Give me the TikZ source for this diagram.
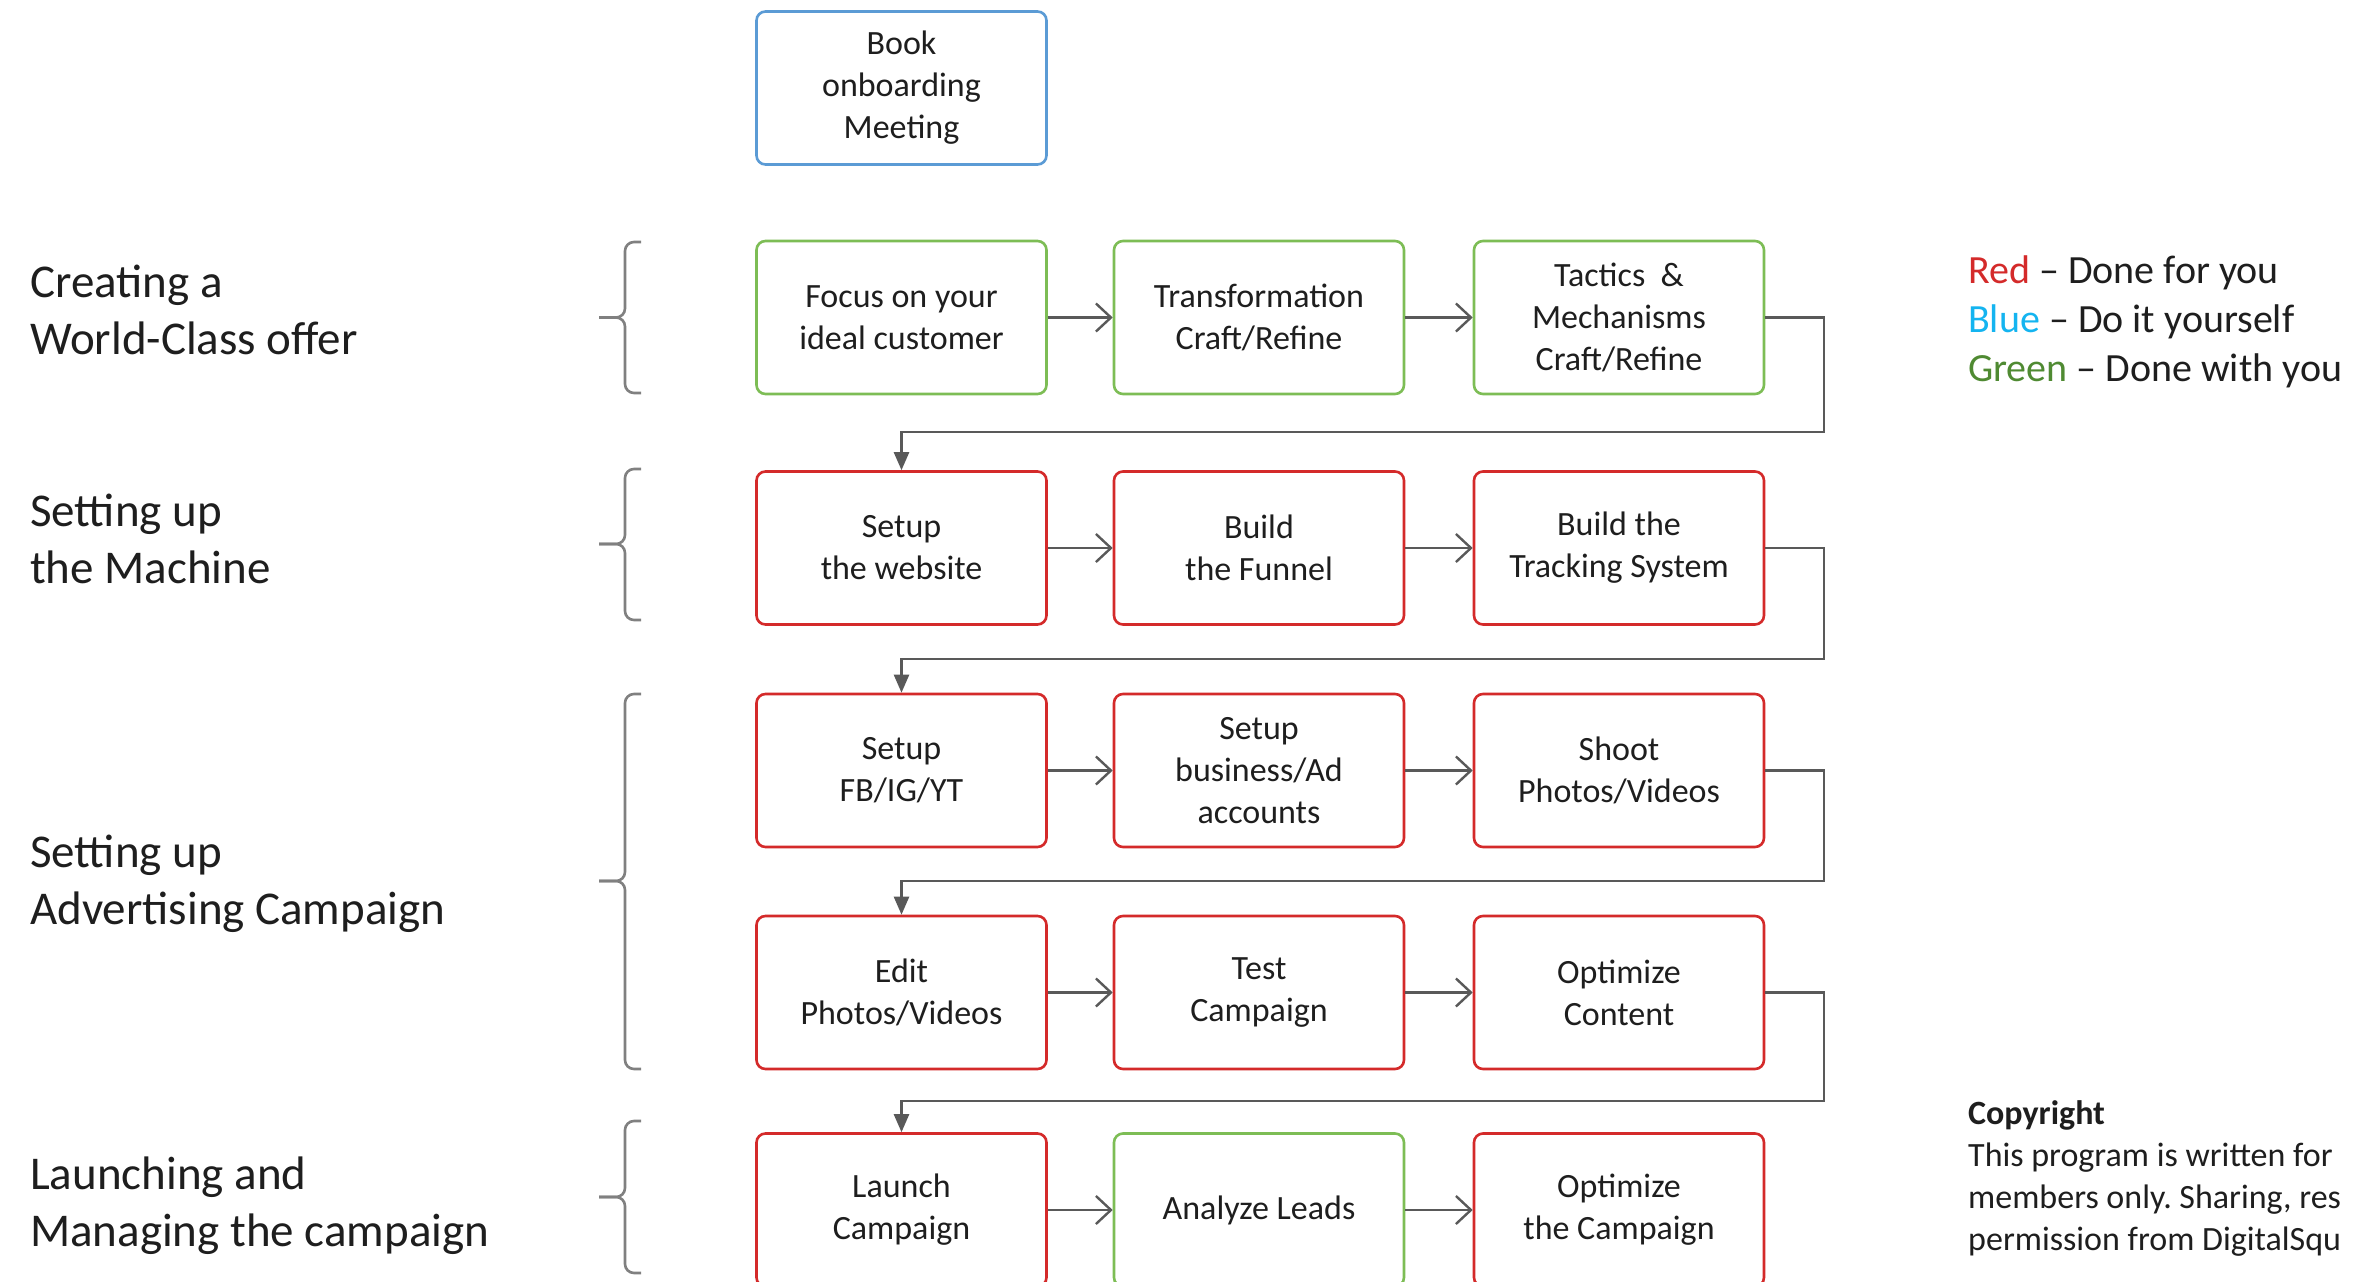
\documentclass[tikz,border=0pt]{standalone}
\usepackage{fontspec}
\setmainfont{Carlito}
\usetikzlibrary{arrows.meta}
\frenchspacing
\definecolor{boxred}{HTML}{D42A2A}
\definecolor{boxgreen}{HTML}{7DBD55}
\definecolor{boxblue}{HTML}{5B9BD5}
\definecolor{legred}{HTML}{D42A2A}
\definecolor{legblue}{HTML}{14B4F0}
\definecolor{leggreen}{HTML}{4F8A32}
\definecolor{linegray}{HTML}{595959}
\definecolor{bracegray}{HTML}{808080}
\definecolor{txt}{HTML}{1E1E1E}
\tikzset{
  stepbox/.style={draw, line width=2.6pt, rounded corners=9pt, minimum width=290pt,
    minimum height=153pt, align=center, text=txt, inner sep=0pt,
    font=\fontsize{34}{42}\selectfont},
  redbox/.style={stepbox, draw=boxred},
  greenbox/.style={stepbox, draw=boxgreen},
  bluebox/.style={stepbox, draw=boxblue},
  harrow/.style={draw=linegray, line width=2.4pt, -{Straight Barb[length=15pt,width=28pt,line width=2.4pt]}},
  darrow/.style={draw=linegray, line width=2.4pt, -{Triangle[length=18pt,width=15pt]}},
  bracestyle/.style={draw=bracegray, line width=2.6pt, rounded corners=9pt},
  sidelabel/.style={anchor=west, align=left, text=txt, inner sep=0pt,
    font=\fontsize{47}{57}\selectfont},
}
\begin{document}
\begin{tikzpicture}[x=1pt,y=-1pt]
\clip (0,0) rectangle (2354,1282);
\fill[white] (0,0) rectangle (2354,1282);

% boxes
\node[bluebox] (book) at (901.5,88) {Book\\onboarding\\Meeting};

\node[greenbox] (a1) at (901.5,317.5) {Focus on your\\ideal customer};
\node[greenbox] (a2) at (1259,317.5) {Transformation\\Craft/Refine};
\node[greenbox] (a3) at (1619,317.5) {Tactics~~\&\\Mechanisms\\Craft/Refine};

\node[redbox] (b1) at (901.5,548) {Setup\\the website};
\node[redbox] (b2) at (1259,548) {Build\\the Funnel};
\node[redbox] (b3) at (1619,548) {Build the\\Tracking System};

\node[redbox] (c1) at (901.5,770.5) {Setup\\FB/IG/YT};
\node[redbox] (c2) at (1259,770.5) {Setup\\business/Ad\\accounts};
\node[redbox] (c3) at (1619,770.5) {Shoot\\Photos/Videos};

\node[redbox] (d1) at (901.5,992.5) {Edit\\Photos/Videos};
\node[redbox] (d2) at (1259,992.5) {Test\\Campaign};
\node[redbox] (d3) at (1619,992.5) {Optimize\\Content};

\node[redbox] (e1) at (901.5,1210) {Launch\\Campaign};
\node[greenbox] (e2) at (1259,1210) {Analyze Leads};
\node[redbox] (e3) at (1619,1210) {Optimize\\the Campaign};

% horizontal arrows
\foreach \r in {a,b,c,d,e}{
  \draw[harrow] (\r1) -- (\r2);
  \draw[harrow] (\r2) -- (\r3);
}

% return connectors
\coordinate (ra) at (1824,432);
\coordinate (rb) at (1824,659);
\coordinate (rc) at (1824,881);
\coordinate (rd) at (1824,1101);
\draw[darrow] (a3.east) -| (ra) -| (b1.north);
\draw[darrow] (b3.east) -| (rb) -| (c1.north);
\draw[darrow] (c3.east) -| (rc) -| (d1.north);
\draw[darrow] (d3.east) -| (rd) -| (e1.north);

% braces
\coordinate (k1t) at (641,242); \coordinate (k1m) at (599,317.5); \coordinate (k1b) at (641,393);
\coordinate (k2t) at (641,469); \coordinate (k2m) at (599,544); \coordinate (k2b) at (641,620);
\coordinate (k3t) at (641,694); \coordinate (k3m) at (599,881); \coordinate (k3b) at (641,1069);
\coordinate (k4t) at (641,1121); \coordinate (k4m) at (599,1197); \coordinate (k4b) at (641,1273);
\foreach \k in {k1,k2,k3,k4}{
  \draw[bracestyle] (\k t) -- ++(-16,0) |- (\k m);
  \draw[bracestyle] (\k b) -- ++(-16,0) |- (\k m);
}

% side labels
\node[sidelabel] (l1) at (30,310) {Creating a\\World-Class offer};
\node[sidelabel] (l2) at (30,539) {Setting up\\the Machine};
\node[sidelabel] (l3) at (30,884) {Setting up\\Advertising Campaign};
\node[sidelabel] (l4) at (30,1206) {Launching and\\Managing the campaign};

% legend
\node[anchor=west, align=left, inner sep=0pt, text=txt, font=\fontsize{40}{49}\selectfont] (legend) at (1968,322)
  {\textcolor{legred}{Red} – Done for you\\\textcolor{legblue}{Blue} – Do it yourself\\\textcolor{leggreen}{Green} – Done with you};

% copyright
\node[anchor=north west, align=left, inner sep=0pt, text=txt, font=\fontsize{34}{42}\selectfont] (copy) at (1968,1100)
  {\textbf{Copyright}\\This program is written for\\members only. Sharing, res\\permission from DigitalSqu};
\end{tikzpicture}
\end{document}
